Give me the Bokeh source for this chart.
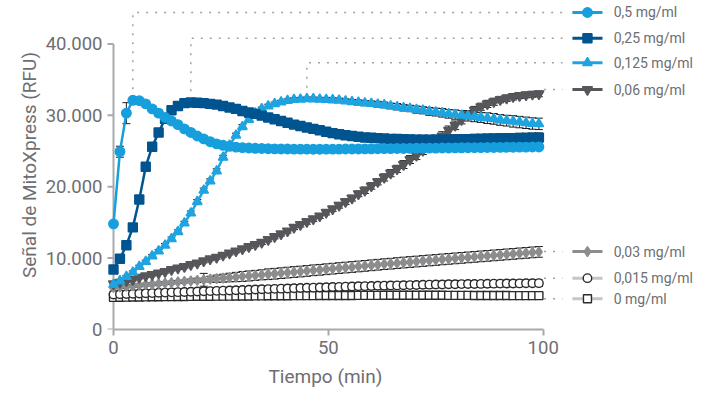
import math
from bokeh.plotting import figure
from bokeh.models import Range1d, FixedTicker, ColumnDataSource, Whisker, TeeHead, Title
from bokeh.core.properties import value
from bokeh.embed import file_html
from bokeh.resources import INLINE

# ---------------- data ----------------
time_min = [0, 1.5, 3, 4.5, 6, 7.5, 9, 10.5, 12, 13.5, 15, 16.5, 18, 19.5, 21, 22.5, 24, 25.5,
            27, 28.5, 30, 31.5, 33, 34.5, 36, 37.5, 39, 40.5, 42, 43.5, 45, 46.5, 48, 49.5,
            51, 52.5, 54, 55.5, 57, 58.5, 60, 61.5, 63, 64.5, 66, 67.5, 69, 70.5, 72, 73.5,
            75, 76.5, 78, 79.5, 81, 82.5, 84, 85.5, 87, 88.5, 90, 91.5, 93, 94.5, 96, 97.5, 99]

conc_05 = [14800, 24900, 30300, 32100, 32050, 31600, 30900, 30300, 29700, 29200,
           28700, 28100, 27600, 27100, 26700, 26300, 26000, 25800, 25650, 25550,
           25480, 25420, 25380, 25350, 25320, 25300, 25290, 25280, 25270, 25260,
           25260, 25250, 25250, 25260, 25260, 25270, 25280, 25280, 25290, 25300,
           25310, 25320, 25330, 25340, 25350, 25360, 25370, 25380, 25390, 25400,
           25410, 25420, 25430, 25440, 25450, 25460, 25470, 25480, 25490, 25500,
           25510, 25520, 25530, 25540, 25550, 25560, 25570]
sd_05 = [0, 770, 1470, 300, 200, 300, 400, 450, 450, 450,
         450, 400, 350, 350, 300, 300, 250, 200, 200, 150,
         150, 150, 150, 150, 150, 150, 150, 150, 150, 150,
         150, 150, 150, 150, 150, 150, 150, 150, 150, 150,
         150, 150, 150, 150, 150, 150, 150, 150, 150, 150,
         150, 150, 150, 150, 150, 150, 150, 150, 150, 150,
         150, 150, 150, 150, 150, 150, 150]

conc_025 = [8400, 9900, 11800, 14300, 18200, 22800, 25600, 27600, 29500, 30700,
            31300, 31700, 31800, 31750, 31700, 31600, 31500, 31300, 31100, 30900,
            30600, 30400, 30200, 29950, 29700, 29450, 29200, 28950, 28700, 28500,
            28300, 28100, 27900, 27700, 27500, 27350, 27200, 27100, 27000, 26900,
            26850, 26800, 26750, 26700, 26680, 26650, 26620, 26600, 26600, 26580,
            26580, 26600, 26600, 26620, 26640, 26660, 26680, 26700, 26720, 26740,
            26760, 26780, 26800, 26820, 26840, 26860, 26880]
sd_025 = [150, 200, 250, 300, 300, 300, 300, 300, 250, 250,
          200, 200, 200, 200, 200, 200, 200, 200, 200, 200,
          200, 200, 250, 250, 250, 250, 300, 300, 300, 300,
          300, 350, 350, 350, 400, 400, 400, 450, 450, 450,
          500, 500, 500, 550, 550, 550, 600, 600, 600, 600,
          650, 650, 650, 650, 650, 650, 650, 650, 650, 650,
          650, 650, 650, 650, 650, 650, 650]

conc_0125 = [6300, 6800, 7400, 8000, 8800, 9500, 10300, 11000, 11800, 12700,
             13700, 14900, 16300, 17900, 19500, 20800, 22200, 24100, 25800, 27200,
             28400, 29400, 30300, 30900, 31300, 31600, 31850, 32050, 32200, 32250,
             32300, 32290, 32250, 32200, 32150, 32100, 32000, 31900, 31800, 31700,
             31650, 31550, 31450, 31300, 31200, 31050, 30950, 30800, 30700, 30550,
             30450, 30350, 30200, 30100, 30000, 29900, 29800, 29700, 29600, 29500,
             29350, 29250, 29150, 29050, 28950, 28850, 28800]
sd_0125 = [150, 150, 150, 200, 200, 200, 200, 200, 250, 250,
           250, 250, 300, 300, 300, 300, 300, 300, 300, 300,
           300, 250, 250, 250, 250, 250, 250, 250, 250, 250,
           250, 250, 250, 300, 300, 300, 300, 300, 350, 350,
           350, 400, 400, 400, 450, 450, 450, 500, 500, 550,
           550, 600, 600, 650, 650, 700, 700, 700, 750, 750,
           750, 750, 800, 800, 800, 800, 800]

conc_006 = [6400, 6600, 6800, 7000, 7300, 7500, 7700, 7900, 8100, 8400,
            8600, 8800, 9100, 9300, 9600, 9900, 10100, 10400, 10700, 11000,
            11300, 11600, 11900, 12200, 12600, 13000, 13400, 13800, 14300, 14700,
            15100, 15500, 15900, 16400, 16900, 17400, 17900, 18400, 19000, 19500,
            20100, 20700, 21300, 21900, 22500, 23100, 23800, 24400, 25100, 25800,
            26400, 27100, 27900, 28600, 29400, 30100, 30700, 31200, 31600, 31900,
            32200, 32400, 32600, 32750, 32850, 32950, 33000]
sd_006 = [200, 200, 200, 200, 200, 200, 200, 200, 200, 200,
          200, 200, 200, 200, 250, 250, 250, 250, 250, 250,
          250, 250, 300, 300, 300, 300, 300, 300, 300, 350,
          350, 350, 350, 350, 350, 400, 400, 400, 400, 450,
          450, 450, 500, 500, 500, 550, 550, 600, 600, 600,
          600, 600, 600, 600, 600, 550, 550, 500, 500, 500,
          450, 450, 450, 400, 400, 400, 400]

conc_003 = [5900, 5960, 6040, 6120, 6190, 6280, 6350, 6420, 6510, 6580,
            6660, 6740, 6810, 6890, 6960, 7050, 7120, 7190, 7280, 7350,
            7430, 7500, 7580, 7660, 7740, 7810, 7890, 7970, 8050, 8120,
            8200, 8290, 8360, 8440, 8520, 8600, 8680, 8750, 8830, 8910,
            8990, 9070, 9150, 9220, 9300, 9380, 9450, 9520, 9600, 9670,
            9740, 9820, 9890, 9960, 10030, 10100, 10170, 10240, 10310, 10380,
            10450, 10520, 10590, 10660, 10730, 10800, 10870]
sd_003 = [200, 200, 200, 200, 200, 200, 200, 200, 200, 200,
          200, 200, 250, 300, 900, 400, 500, 550, 600, 650,
          700, 700, 700, 700, 750, 750, 750, 750, 750, 750,
          750, 750, 750, 750, 750, 750, 750, 750, 750, 750,
          750, 750, 750, 750, 750, 750, 750, 750, 750, 750,
          750, 750, 750, 750, 750, 750, 750, 750, 750, 750,
          750, 750, 750, 750, 750, 750, 750]

conc_0015 = [4900, 4940, 4970, 5000, 5040, 5070, 5100, 5140, 5170, 5200,
             5230, 5260, 5290, 5320, 5350, 5380, 5410, 5440, 5470, 5500,
             5530, 5560, 5600, 5630, 5660, 5690, 5720, 5750, 5780, 5810,
             5840, 5860, 5890, 5920, 5950, 5970, 6000, 6020, 6050, 6070,
             6100, 6120, 6140, 6160, 6180, 6200, 6220, 6240, 6260, 6280,
             6300, 6310, 6330, 6340, 6360, 6370, 6380, 6390, 6410, 6420,
             6430, 6440, 6450, 6460, 6470, 6480, 6490]
sd_0015 = [450, 450, 450, 450, 450, 450, 450, 450, 450, 450,
           450, 450, 450, 450, 450, 450, 450, 450, 450, 450,
           450, 450, 450, 450, 450, 450, 450, 450, 450, 450,
           450, 450, 450, 450, 450, 450, 450, 450, 450, 450,
           450, 450, 450, 450, 450, 450, 450, 450, 450, 450,
           450, 450, 450, 450, 450, 450, 450, 450, 450, 450,
           450, 450, 450, 450, 450, 450, 450]

conc_0 = [4500, 4520, 4530, 4550, 4560, 4570, 4580, 4590, 4600, 4610,
          4620, 4630, 4640, 4650, 4650, 4660, 4670, 4680, 4680, 4690,
          4700, 4700, 4710, 4710, 4720, 4720, 4730, 4730, 4740, 4740,
          4750, 4750, 4760, 4760, 4760, 4770, 4770, 4770, 4780, 4780,
          4780, 4780, 4790, 4790, 4790, 4790, 4790, 4790, 4790, 4790,
          4790, 4790, 4780, 4780, 4780, 4780, 4770, 4770, 4770, 4760,
          4760, 4760, 4750, 4750, 4750, 4740, 4740]
sd_0 = [400, 400, 400, 400, 400, 400, 400, 400, 400, 400,
        400, 400, 400, 400, 400, 400, 400, 400, 400, 400,
        400, 400, 400, 400, 400, 400, 400, 400, 400, 400,
        400, 400, 400, 400, 400, 400, 400, 400, 400, 400,
        400, 400, 400, 400, 400, 400, 400, 400, 400, 400,
        400, 400, 400, 400, 400, 400, 400, 400, 400, 400,
        400, 400, 400, 400, 400, 400, 400]

series_labels = ["0 mg/ml", "0,015 mg/ml", "0,03 mg/ml", "0,06 mg/ml",
                 "0,125 mg/ml", "0,25 mg/ml", "0,5 mg/ml"]
series_values = [conc_0, conc_0015, conc_003, conc_006, conc_0125, conc_025, conc_05]
series_sd = [sd_0, sd_0015, sd_003, sd_006, sd_0125, sd_025, sd_05]

x_ticks = [0, 50, 100]
x_tick_labels = ["0", "50", "100"]
y_ticks = [0, 10000, 20000, 30000, 40000]
y_tick_labels = ["0", "10.000", "20.000", "30.000", "40.000"]

x_title = "Tiempo (min)"
y_title = "Señal de MitoXpress (RFU)"

# ---------------- styles ----------------
FONT = "Roboto"
TXT = "#6d6e71"
AX = "#a7a9ac"
styles = [
    dict(marker="square", line="#c6c6c6", mline="#2a2a2a", mfill="white", size=8, row=4300, lead="h"),
    dict(marker="circle", line="#c6c6c6", mline="#2a2a2a", mfill="white", size=8.5, row=7190, lead="h"),
    dict(marker="diamond", line="#8c8d8f", mline="#8c8d8f", mfill="#8c8d8f", size=10, row=10920, lead="h"),
    dict(marker="inverted_triangle", line="#56575a", mline="#56575a", mfill="#56575a", size=10, row=33610, lead="h"),
    dict(marker="triangle", line="#1ea4e0", mline="#1ea4e0", mfill="#1ea4e0", size=9.5, row=37350, lead="v"),
    dict(marker="square", line="#00548f", mline="#00548f", mfill="#00548f", size=9, row=40800, lead="v"),
    dict(marker="circle", line="#169fdc", mline="#169fdc", mfill="#169fdc", size=9.5, row=44400, lead="v"),
]

# frame: left edge 104 px, right edge 701 px, top 0, bottom 329 px
p = figure(width=709, height=394, output_backend="svg", toolbar_location=None,
           x_range=Range1d(-2.094, 136.84), y_range=Range1d(0, 46080),
           min_border_left=104, min_border_right=8, min_border_top=0, min_border_bottom=65)
p.outline_line_color = None
p.xgrid.visible = False
p.ygrid.visible = False
p.background_fill_color = "white"
p.border_fill_color = "white"

# y axis rule and ticks at x = 0 (tick length 6 px = 1.4 min)
p.segment(x0=[0], y0=[y_ticks[0]], x1=[0], y1=[y_ticks[-1]], line_color=AX, line_width=2)
p.segment(x0=[-1.4] * len(y_ticks), y0=y_ticks, x1=[0] * len(y_ticks), y1=y_ticks,
          line_color=AX, line_width=2)

# leader (dotted) lines
LEG_LINE_X0, LEG_LINE_X1, LEG_MARK_X, LEG_TEXT_X, LEAD_END = 106.8, 113.8, 110.3, 116.4, 104.5
for vals, st in zip(series_values, styles):
    if st["lead"] == "v":
        k = max(range(len(vals)), key=lambda i: vals[i])
        xs = [time_min[k], time_min[k], LEAD_END]
        ys = [vals[k] + 300, st["row"], st["row"]]
    else:
        xs = [time_min[-1] + 1.2, LEAD_END]
        ys = [st["row"], st["row"]]
    p.line(xs, ys, line_color="#a0a0a0", line_width=1.5, line_dash="2 7")

# series
for vals, sds, st in zip(series_values, series_sd, styles):
    src = ColumnDataSource(dict(t=time_min, v=vals,
                                up=[a + b for a, b in zip(vals, sds)],
                                lo=[a - b for a, b in zip(vals, sds)]))
    w = Whisker(base="t", upper="up", lower="lo", source=src, line_color="#1e1e1e", line_width=1,
                upper_head=TeeHead(size=8, line_color="#1e1e1e", line_width=1),
                lower_head=TeeHead(size=8, line_color="#1e1e1e", line_width=1))
    p.add_layout(w)
    p.line("t", "v", source=src, line_color=st["line"], line_width=2.5)
    p.scatter("t", "v", source=src, marker=st["marker"], size=st["size"],
              fill_color=st["mfill"], line_color=st["mline"], line_width=1.4)

# legend
for lab, st in zip(series_labels, styles):
    r = st["row"]
    p.line([LEG_LINE_X0, LEG_LINE_X1], [r, r], line_color=st["line"], line_width=3)
    p.scatter([LEG_MARK_X], [r], marker=st["marker"], size=st["size"],
              fill_color=st["mfill"], line_color=st["mline"], line_width=1.4)
    p.text([LEG_TEXT_X], [r], text=[lab], text_baseline="middle", text_align="left",
           text_font=value(FONT), text_font_size="14px", text_color=TXT)

# axes
xa = p.xaxis[0]
xa.axis_line_color = AX
xa.axis_line_width = 2
xa.major_tick_line_color = AX
xa.major_tick_line_width = 2
xa.major_tick_out = 6
xa.major_tick_in = 0
xa.minor_tick_line_color = None
xa.ticker = FixedTicker(ticks=x_ticks)
xa.major_label_overrides = dict(zip(x_ticks, x_tick_labels))
xa.bounds = (x_ticks[0], x_ticks[-1])

ya = p.yaxis[0]
ya.axis_line_color = None
ya.major_tick_line_color = None
ya.minor_tick_line_color = None
ya.major_tick_out = 0
ya.major_tick_in = 0
ya.major_label_standoff = 2
ya.ticker = FixedTicker(ticks=y_ticks)
ya.major_label_overrides = dict(zip(y_ticks, y_tick_labels))

for ax in (xa, ya):
    ax.major_label_text_font = FONT
    ax.major_label_text_font_size = "18.5px"
    ax.major_label_text_color = TXT

p.add_layout(Title(text=x_title, align="left", offset=164, standoff=13,
                   text_font=FONT, text_font_size="19px", text_font_style="normal",
                   text_color=TXT), "below")
p.add_layout(Title(text=y_title, align="center", offset=-22.5, standoff=4,
                   text_font=FONT, text_font_size="19px", text_font_style="normal",
                   text_color=TXT), "left")

open("out.html", "w").write(file_html(p, INLINE))
